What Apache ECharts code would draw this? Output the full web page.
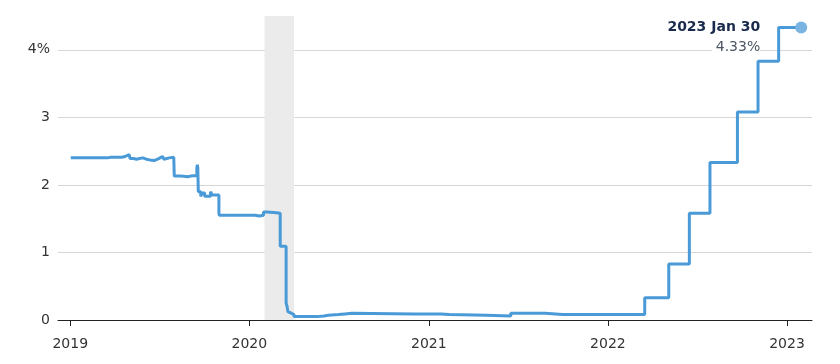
<!DOCTYPE html>
<html>
<head>
<meta charset="utf-8">
<script src="https://cdn.jsdelivr.net/npm/echarts@6/dist/echarts.min.js"></script>
<style>
html,body{margin:0;padding:0;background:#fff;}
#chart{width:840px;height:364px;}
</style>
</head>
<body>
<div id="chart"></div>
<script>
// Effective federal funds rate (change points, % )
var dates = [
  '2019-01-02','2019-03-18','2019-03-25','2019-03-29','2019-04-01','2019-04-16','2019-04-23','2019-04-26',
  '2019-05-01','2019-05-03','2019-05-10','2019-05-16','2019-05-22','2019-05-29','2019-06-05','2019-06-12',
  '2019-06-21','2019-06-28','2019-07-03','2019-07-08','2019-07-11','2019-07-15','2019-07-22','2019-07-31',
  '2019-08-01','2019-08-15','2019-08-29','2019-09-03','2019-09-16','2019-09-17','2019-09-18','2019-09-19',
  '2019-09-24','2019-09-27','2019-10-02','2019-10-14','2019-10-17','2019-10-31','2019-11-01','2019-12-31',
  '2020-01-13','2020-01-21','2020-01-30','2020-02-05','2020-02-20','2020-03-04','2020-03-16','2020-03-18',
  '2020-03-19','2020-03-20','2020-03-24','2020-03-27','2020-04-01','2020-05-18','2020-05-22','2020-06-01',
  '2020-06-10','2020-07-01','2020-07-14','2020-07-28','2020-12-02','2020-12-04','2021-01-25','2021-02-12',
  '2021-04-28','2021-06-17','2021-06-30','2021-07-01','2021-07-30','2021-08-02','2021-08-26','2021-09-30',
  '2021-10-01','2021-10-29','2021-11-01','2021-12-02','2021-12-03','2022-03-17','2022-05-05','2022-06-16',
  '2022-07-28','2022-09-22','2022-11-03','2022-12-15','2023-01-30'
];
var rates = [
  2.40,2.41,2.43,2.41,2.41,2.42,2.44,2.45,
  2.43,2.39,2.38,2.39,2.40,2.38,2.37,2.36,
  2.38,2.40,2.42,2.41,2.38,2.40,2.41,2.40,
  2.13,2.12,2.13,2.14,2.25,2.30,2.25,1.90,
  1.83,1.88,1.83,1.90,1.85,1.58,1.55,1.55,
  1.54,1.55,1.60,1.59,1.58,1.09,0.25,0.20,
  0.15,0.12,0.10,0.08,0.05,0.05,0.06,0.07,
  0.08,0.09,0.10,0.09,0.08,0.09,0.08,0.07,
  0.06,0.10,0.08,0.10,0.08,0.10,0.08,0.07,
  0.08,0.07,0.08,0.07,0.08,0.33,0.83,1.58,
  2.33,3.08,3.83,4.33,4.33
];
// Recession shading
var recessionStart = ['2020-02-01'];
var recessionEnd = ['2020-04-01'];
// Axes
var xTickYears = [2019, 2020, 2021, 2022, 2023];
var xTickLabels = ['2019', '2020', '2021', '2022', '2023'];
var yTickValues = [0, 1, 2, 3, 4];
var yTickLabels = ['0', '1', '2', '3', '4%'];
var monthNames = ['Jan','Feb','Mar','Apr','May','Jun','Jul','Aug','Sep','Oct','Nov','Dec'];

function toTs(s) {
  var p = s.split('-');
  return new Date(+p[0], +p[1] - 1, +p[2]).getTime();
}
var seriesData = dates.map(function (d, i) { return [toTs(d), rates[i]]; });
var xTickTs = xTickYears.map(function (y) { return new Date(y, 0, 1).getTime(); });
var last = seriesData[seriesData.length - 1];
var lastDate = new Date(last[0]);
var lastLabel = lastDate.getFullYear() + ' ' + monthNames[lastDate.getMonth()] + ' ' + lastDate.getDate();
var lastValLabel = last[1].toFixed(2) + '%';

var FONT = '"DejaVu Sans"';
var chart = echarts.init(document.getElementById('chart'), null, { renderer: 'canvas' });
chart.setOption({
  animation: false,
  backgroundColor: '#fff',
  grid: { left: 58, right: 28, top: 16, bottom: 44 },
  xAxis: {
    type: 'value',
    min: new Date(2018, 11, 7).getTime(),
    max: new Date(2023, 1, 21).getTime(),
    axisLine: { show: true, lineStyle: { color: '#222', width: 1 } },
    axisTick: { show: true, length: 6, lineStyle: { color: '#222' }, customValues: xTickTs },
    axisLabel: {
      customValues: xTickTs,
      color: '#333', fontSize: 14, fontFamily: FONT, margin: 17,
      formatter: function (v) {
        var y = new Date(v).getFullYear();
        var i = xTickYears.indexOf(y);
        return i >= 0 ? xTickLabels[i] : '';
      }
    },
    splitLine: { show: false }
  },
  yAxis: {
    type: 'value',
    min: 0, max: 4.5, interval: 1,
    axisLine: { show: false },
    axisTick: { show: false },
    axisLabel: {
      color: '#333', fontSize: 14, fontFamily: FONT, margin: 8, showMaxLabel: false,
      formatter: function (v) {
        var i = yTickValues.indexOf(v);
        return i >= 0 ? yTickLabels[i] : '';
      }
    },
    splitLine: { show: true, showMaxLine: false, lineStyle: { color: '#d6d6d6', width: 1 } }
  },
  series: [
    {
      type: 'line',
      z: -1,
      data: [],
      silent: true,
      markArea: {
        silent: true,
        itemStyle: { color: '#ebebeb' },
        data: recessionStart.map(function (s, i) {
          return [{ xAxis: toTs(s) }, { xAxis: toTs(recessionEnd[i]) }];
        })
      }
    },
    {
      type: 'line',
      step: 'end',
      data: seriesData,
      showSymbol: false,
      lineStyle: { color: '#4a9ad8', width: 3 },
      itemStyle: { color: '#4a9ad8' },
      markPoint: {
        symbol: 'circle',
        symbolSize: 12,
        itemStyle: { color: '#7ab4e2' },
        data: [{ coord: last }],
        label: {
          show: true,
          position: 'left',
          distance: 35,
          offset: [0, 10],
          formatter: '{a|' + lastLabel + '}\n{b|' + lastValLabel + '}',
          rich: {
            a: { fontFamily: FONT, fontWeight: 'bold', fontSize: 14, color: '#1a2a4c', align: 'right', lineHeight: 20 },
            b: { fontFamily: FONT, fontSize: 14, color: '#4b5563', align: 'right', lineHeight: 20, backgroundColor: '#fff', padding: [0, 0, 0, 4] }
          }
        }
      }
    }
  ]
});
</script>
</body>
</html>
